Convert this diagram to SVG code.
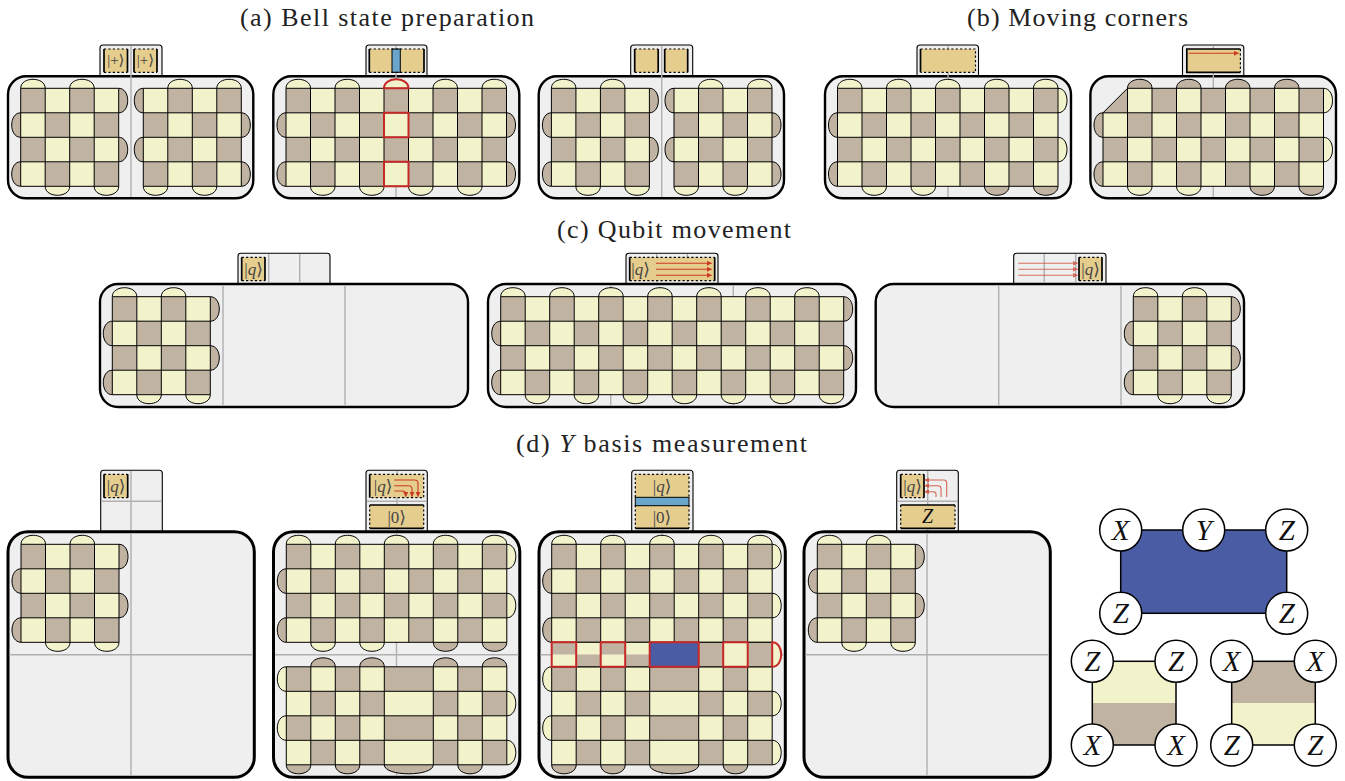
<svg xmlns="http://www.w3.org/2000/svg" width="1345" height="781" viewBox="0 0 1345 781">
<style>
text{font-family:"Liberation Serif","DejaVu Serif",serif}
.ttl{font-size:26px;fill:#222}
.l{fill:#f3f3cb}.d{fill:#c0b3a2}
.c{stroke:#000;stroke-width:1}
.g{fill:none;stroke:#000;stroke-width:1}
.p{fill:#efefef;stroke:#000;stroke-width:2.4}
.q{fill:#efefef;stroke:#000;stroke-width:3}
.t{fill:#efefef;stroke:#000;stroke-width:1.1}
.s{stroke:#b0b0b0;stroke-width:1.4;fill:none}
.y{fill:#e5cd8e}
.dot{stroke:#000;stroke-width:1.2;stroke-dasharray:2.2 2.2;fill:none}
.thk{stroke:#000;stroke-width:1.7;fill:none}
.r{fill:none;stroke:#c62828;stroke-width:2}
.a{stroke:#cc3a20;stroke-width:1.1;fill:none;marker-end:url(#ah)}
.k{font-size:15px;fill:#444;text-anchor:middle}
.kq{font-size:17px;fill:#444;text-anchor:middle}
.m{font-size:29px;font-style:italic;fill:#111;text-anchor:middle}
.o{fill:#fff;stroke:#000;stroke-width:1.5}
.e{stroke:#000;stroke-width:1.5;fill:none}
.n{fill:#4a5ca3;stroke:#000;stroke-width:1.5}
</style>
<defs>
<marker id="ah" markerUnits="userSpaceOnUse" markerWidth="5" markerHeight="5" refX="4.5" refY="2.5" orient="auto"><path d="M0 0L5 2.5L0 5z" fill="#cc3a20"/></marker>
<pattern id="pA" patternUnits="userSpaceOnUse" width="49" height="49"><rect width="49" height="49" fill="#f3f3cb"/><rect width="24.5" height="24.5" fill="#c0b3a2"/><rect x="24.5" y="24.5" width="24.5" height="24.5" fill="#c0b3a2"/></pattern>
<pattern id="pB" patternUnits="userSpaceOnUse" width="49" height="49"><rect width="49" height="49" fill="#c0b3a2"/><rect width="24.5" height="24.5" fill="#f3f3cb"/><rect x="24.5" y="24.5" width="24.5" height="24.5" fill="#f3f3cb"/></pattern>
<path id="g4" class="g" d="M0 0H98M0 24.5H98M0 49H98M0 73.5H98M0 98H98M0 0V98M24.5 0V98M49 0V98M73.5 0V98M98 0V98"/>
<path id="g9" class="g" d="M0 0H220.5M0 24.5H220.5M0 49H220.5M0 73.5H220.5M0 98H220.5M0 0V98M24.5 0V98M49 0V98M73.5 0V98M98 0V98M122.5 0V98M147 0V98M171.5 0V98M196 0V98M220.5 0V98"/>
<g id="bA">
<path class="l c" d="M0 0c0-12 24.5-12 24.5 0M49 0c0-12 24.5-12 24.5 0M24.5 98c0 12 24.5 12 24.5 0M73.5 98c0 12 24.5 12 24.5 0"/>
<path class="d c" d="M98 0c12 0 12 24.5 0 24.5M98 49c12 0 12 24.5 0 24.5M0 24.5c-12 0-12 24.5 0 24.5M0 73.5c-12 0-12 24.5 0 24.5"/>
<rect width="98" height="98" fill="url(#pA)"/><use href="#g4"/>
</g>
<g id="bB">
<path class="l c" d="M24.5 0c0-12 24.5-12 24.5 0M73.5 0c0-12 24.5-12 24.5 0M0 98c0 12 24.5 12 24.5 0M49 98c0 12 24.5 12 24.5 0"/>
<path class="d c" d="M98 24.5c12 0 12 24.5 0 24.5M98 73.5c12 0 12 24.5 0 24.5M0 0c-12 0-12 24.5 0 24.5M0 49c-12 0-12 24.5 0 24.5"/>
<rect width="98" height="98" fill="url(#pB)"/><use href="#g4"/>
</g>
<g id="bU">
<path class="l c" d="M0 0c0-12 24.5-12 24.5 0M49 0c0-12 24.5-12 24.5 0M98 0c0-12 24.5-12 24.5 0M147 0c0-12 24.5-12 24.5 0M196 0c0-12 24.5-12 24.5 0M220.5 0c12 0 12 24.5 0 24.5M220.5 49c12 0 12 24.5 0 24.5M24.5 98c0 12 24.5 12 24.5 0M73.5 98c0 12 24.5 12 24.5 0"/>
<path class="d c" d="M0 24.5c-12 0-12 24.5 0 24.5M0 73.5c-12 0-12 24.5 0 24.5M147 98c0 12 24.5 12 24.5 0M196 98c0 12 24.5 12 24.5 0"/>
<rect width="220.5" height="98" fill="url(#pA)"/><use href="#g9"/>
</g>
<g id="bL">
<path class="d c" d="M24.5 0c0-12 24.5-12 24.5 0M73.5 0c0-12 24.5-12 24.5 0M147 0c0-12 24.5-12 24.5 0M196 0c0-12 24.5-12 24.5 0M0 98c0 12 24.5 12 24.5 0M49 98c0 12 24.5 12 24.5 0M98 98c0 12 49 12 49 0M171.5 98c0 12 24.5 12 24.5 0"/>
<path class="l c" d="M0 0c-12 0-12 24.5 0 24.5M0 49c-12 0-12 24.5 0 24.5M220.5 24.5c12 0 12 24.5 0 24.5M220.5 73.5c12 0 12 24.5 0 24.5"/>
<rect width="98" height="98" fill="url(#pA)"/>
<rect x="147" width="73.5" height="98" fill="url(#pB)"/>
<path class="d" d="M98 0h49v24.5h-49zM98 49h49v24.5h-49z"/>
<path class="l" d="M98 24.5h49v24.5h-49zM98 73.5h49v24.5h-49z"/>
<path class="g" d="M0 0H220.5M0 24.5H220.5M0 49H220.5M0 73.5H220.5M0 98H220.5M0 0V98M24.5 0V98M49 0V98M73.5 0V98M98 0V98M147 0V98M171.5 0V98M196 0V98M220.5 0V98"/>
</g>
<g id="panelA">
<rect class="t" x="100" y="45" width="62" height="34" rx="3"/>
<rect class="p" x="8" y="76.3" width="245.3" height="122" rx="18"/>
<path class="s" d="M131 46V197"/>
<rect class="y" x="104" y="49" width="23.5" height="23.3"/><rect class="y" x="134" y="49" width="23" height="23.3"/>
<path class="dot" d="M104 49H127.5M104 72.3H127.5M134 49H157M134 72.3H157"/>
<path class="thk" d="M104 49V72.3M127.5 49V72.3M134 49V72.3M157 49V72.3"/>
<use href="#bA" x="20.7" y="88.3"/><use href="#bB" x="143.3" y="88.3"/>
</g>
<g id="panelD">
<rect class="q" x="0" y="0" width="246.3" height="245.6" rx="20"/>
<path class="s" d="M123 1.5V244M1.5 123H244.8"/>
</g>
</defs>

<g id="titles">
<text class="ttl" x="240" y="26" textLength="294" lengthAdjust="spacing">(a) Bell state preparation</text>
<text class="ttl" x="967" y="26" textLength="221" lengthAdjust="spacing">(b) Moving corners</text>
<text class="ttl" x="557" y="238" textLength="234" lengthAdjust="spacing">(c) Qubit movement</text>
<text class="ttl" x="516" y="452" textLength="291" lengthAdjust="spacing">(d) <tspan font-style="italic">Y</tspan> basis measurement</text>
</g>

<g id="panel-a1"><use href="#panelA"/>
<text class="k" x="115.8" y="65">|+⟩</text><text class="k" x="145.5" y="65">|+⟩</text></g>

<g id="panel-a2">
<rect class="t" x="366" y="45" width="61" height="34" rx="3"/>
<rect class="p" x="273.3" y="76.3" width="246" height="122" rx="18"/>
<path class="s" d="M396 46V197"/>
<rect class="y" x="369.3" y="49" width="54.7" height="23.3"/>
<rect x="392" y="49" width="8.3" height="23.3" fill="#6aa6cc" stroke="#000"/>
<path class="dot" d="M369.3 49H424M369.3 72.3H424"/>
<path class="thk" d="M369.3 49V72.3M424 49V72.3"/>
<g transform="translate(286 88.3)">
<path class="l c" d="M0 0c0-12 24.5-12 24.5 0M49 0c0-12 24.5-12 24.5 0M98 0c0-12 24.5-12 24.5 0M147 0c0-12 24.5-12 24.5 0M196 0c0-12 24.5-12 24.5 0M24.5 98c0 12 24.5 12 24.5 0M73.5 98c0 12 24.5 12 24.5 0M122.5 98c0 12 24.5 12 24.5 0M171.5 98c0 12 24.5 12 24.5 0"/>
<path class="d c" d="M0 24.5c-12 0-12 24.5 0 24.5M0 73.5c-12 0-12 24.5 0 24.5M220.5 24.5c12 0 12 24.5 0 24.5M220.5 73.5c12 0 12 24.5 0 24.5"/>
<rect width="220.5" height="98" fill="url(#pA)"/><use href="#g9"/>
<path class="r" d="M98 0c0-12 24.5-12 24.5 0zM98 24.5h24.5V49H98zM98 73.5h24.5V98H98z"/>
</g></g>

<g id="panel-a3" transform="translate(530.7 0)"><use href="#panelA"/></g>

<g id="panel-b1">
<rect class="t" x="917" y="45" width="61.5" height="34" rx="3"/>
<rect class="p" x="825" y="76.3" width="246" height="122" rx="18"/>
<path class="s" d="M948 46V197"/>
<rect class="y" x="920.5" y="49" width="55" height="23.3"/>
<path class="dot" d="M920.5 49H975.5V72.3H920.5"/>
<path class="thk" d="M920.5 49V72.3"/>
<g transform="translate(837.5 88.3)">
<path class="l c" d="M0 0c0-12 24.5-12 24.5 0M49 0c0-12 24.5-12 24.5 0M98 0c0-12 24.5-12 24.5 0M147 0c0-12 24.5-12 24.5 0M196 0c0-12 24.5-12 24.5 0M220.5 0c12 0 12 24.5 0 24.5M220.5 49c12 0 12 24.5 0 24.5M24.5 98c0 12 24.5 12 24.5 0M73.5 98c0 12 24.5 12 24.5 0"/>
<path class="d c" d="M0 24.5c-12 0-12 24.5 0 24.5M0 73.5c-12 0-12 24.5 0 24.5M147 98c0 12 24.5 12 24.5 0M196 98c0 12 24.5 12 24.5 0"/>
<rect width="220.5" height="98" fill="url(#pA)"/><use href="#g9"/>
</g></g>

<g id="panel-b2">
<rect class="t" x="1182.5" y="45" width="61.3" height="34" rx="3"/>
<rect class="p" x="1090.4" y="76.3" width="245.6" height="122" rx="18"/>
<path class="s" d="M1213.3 46V197"/>
<rect class="y" x="1186.8" y="49" width="53.6" height="23.3"/>
<path class="dot" d="M1240.4 49V72.3"/>
<path class="thk" d="M1240.4 49H1186.8V72.3H1240.4"/>
<path class="a" d="M1188.5 53.3H1238.5"/>
<g transform="translate(1103 88.3)">
<path class="d c" d="M24.5 0c0-12 24.5-12 24.5 0M73.5 0c0-12 24.5-12 24.5 0M122.5 0c0-12 24.5-12 24.5 0M171.5 0c0-12 24.5-12 24.5 0M0 24.5c-12 0-12 24.5 0 24.5M0 73.5c-12 0-12 24.5 0 24.5M147 98c0 12 24.5 12 24.5 0M196 98c0 12 24.5 12 24.5 0"/>
<path class="l c" d="M220.5 0c12 0 12 24.5 0 24.5M220.5 49c12 0 12 24.5 0 24.5M24.5 98c0 12 24.5 12 24.5 0M73.5 98c0 12 24.5 12 24.5 0"/>
<path fill="url(#pA)" d="M24.5 0H220.5V98H0V24.5z"/>
<path class="g" d="M24.5 0H220.5V98H0V24.5zM0 24.5H220.5M0 49H220.5M0 73.5H220.5M24.5 0V98M49 0V98M73.5 0V98M98 0V98M122.5 0V98M147 0V98M171.5 0V98M196 0V98"/>
</g></g>

<g id="panel-c1">
<rect class="t" x="238" y="253.3" width="92" height="34" rx="3"/>
<rect class="p" x="100" y="284" width="368" height="123" rx="18"/>
<path class="s" d="M223 285.2V405.8M345 285.2V405.8M268.7 254V283M299.7 254V283"/>
<rect class="y" x="241.7" y="257.3" width="23.3" height="23.4"/>
<path class="dot" d="M241.7 257.3H265M241.7 280.7H265"/>
<path class="thk" d="M241.7 257.3V280.7M265 257.3V280.7"/>
<text class="kq" x="253.5" y="274.5">|<tspan font-style="italic">q</tspan>⟩</text>
<use href="#bA" x="112.3" y="296.7"/>
</g>

<g id="panel-c2">
<rect class="t" x="626" y="253.3" width="92" height="34" rx="3"/>
<rect class="p" x="488" y="284" width="368" height="123" rx="18"/>
<path class="s" d="M610.7 285.2V405.8M733.3 285.2V405.8M656.7 254V283M687.3 254V283"/>
<rect class="y" x="629.7" y="257.3" width="85" height="23.4"/>
<path class="dot" d="M629.7 257.3H714.7M629.7 280.7H714.7"/>
<path class="thk" d="M629.7 257.3V280.7M714.7 257.3V280.7"/>
<text class="kq" x="640.5" y="274.5">|<tspan font-style="italic">q</tspan>⟩</text>
<path class="a" d="M656 263.3H711.5"/><path class="a" d="M656 269.3H711.5"/><path class="a" d="M656 275.3H711.5"/>
<g transform="translate(500.7 296.7)">
<path class="l c" d="M0 0c0-12 24.5-12 24.5 0M49 0c0-12 24.5-12 24.5 0M98 0c0-12 24.5-12 24.5 0M147 0c0-12 24.5-12 24.5 0M196 0c0-12 24.5-12 24.5 0M245 0c0-12 24.5-12 24.5 0M294 0c0-12 24.5-12 24.5 0M24.5 98c0 12 24.5 12 24.5 0M73.5 98c0 12 24.5 12 24.5 0M122.5 98c0 12 24.5 12 24.5 0M171.5 98c0 12 24.5 12 24.5 0M220.5 98c0 12 24.5 12 24.5 0M269.5 98c0 12 24.5 12 24.5 0M318.5 98c0 12 24.5 12 24.5 0"/>
<path class="d c" d="M0 24.5c-12 0-12 24.5 0 24.5M0 73.5c-12 0-12 24.5 0 24.5M343 0c12 0 12 24.5 0 24.5M343 49c12 0 12 24.5 0 24.5"/>
<rect width="343" height="98" fill="url(#pA)"/>
<path class="g" d="M0 0H343M0 24.5H343M0 49H343M0 73.5H343M0 98H343M0 0V98M24.5 0V98M49 0V98M73.5 0V98M98 0V98M122.5 0V98M147 0V98M171.5 0V98M196 0V98M220.5 0V98M245 0V98M269.5 0V98M294 0V98M318.5 0V98M343 0V98"/>
</g></g>

<g id="panel-c3">
<rect class="t" x="1013.7" y="253.3" width="92.3" height="34" rx="3"/>
<rect class="p" x="875.7" y="284" width="368.3" height="123" rx="18"/>
<path class="s" d="M998.7 285.2V405.8M1121 285.2V405.8M1044.3 254V283M1075.7 254V283"/>
<rect class="y" x="1079" y="257.3" width="23" height="23.4"/>
<path class="dot" d="M1079 257.3H1102M1079 280.7H1102"/>
<path class="thk" d="M1079 257.3V280.7M1102 257.3V280.7"/>
<text class="kq" x="1090.5" y="274.5">|<tspan font-style="italic">q</tspan>⟩</text>
<g opacity=".7"><path class="a" d="M1018.3 263.3H1077.5"/><path class="a" d="M1018.3 269.3H1077.5"/><path class="a" d="M1018.3 275.3H1077.5"/></g>
<use href="#bA" x="1133.3" y="296.7"/>
</g>

<g id="panel-d1">
<rect class="t" x="100.7" y="470.3" width="61.6" height="65" rx="3"/>
<path class="s" d="M131 471V531M101 501.3H162"/>
<rect class="y" x="104" y="474.3" width="23.7" height="23.4"/>
<path class="dot" d="M104 474.3H127.7M104 497.7H127.7"/>
<path class="thk" d="M104 474.3V497.7M127.7 474.3V497.7"/>
<text class="kq" x="116" y="491.5">|<tspan font-style="italic">q</tspan>⟩</text>
<use href="#panelD" transform="translate(8 531.7)"/>
<use href="#bA" x="21" y="544.3"/>
</g>

<g id="panel-d2">
<rect class="t" x="366" y="470.3" width="61.3" height="65" rx="3"/>
<path class="s" d="M397 471V531M367 501.3H427"/>
<rect class="y" x="369.7" y="474.3" width="54" height="23.4"/><rect class="y" x="369.7" y="505" width="54" height="23.3"/>
<path class="dot" d="M369.7 474.3H423.7V497.7H369.7M369.7 505V528.3M423.7 505V528.3"/>
<path class="thk" d="M369.7 474.3V497.7M369.7 505H423.7M369.7 528.3H423.7"/>
<text class="kq" x="383" y="491.5">|<tspan font-style="italic">q</tspan>⟩</text><text class="kq" x="396.7" y="522.5">|0⟩</text>
<path class="a" d="M394.3 480H414.5Q418 480 418 483.5V496.5"/><path class="a" d="M394.3 485.7H408.5Q412 485.7 412 489V496.5"/><path class="a" d="M394.3 491H402.5Q405.7 491 405.7 494V496.5"/>
<use href="#panelD" transform="translate(273.5 531.7)"/>
<use href="#bU" x="286.3" y="544.3"/><use href="#bL" x="286.3" y="666.8"/>
</g>

<g id="panel-d3">
<rect class="t" x="631.7" y="470.3" width="61.3" height="65" rx="3"/>
<path class="s" d="M662.5 471V531"/>
<rect class="y" x="635.3" y="474.3" width="53.7" height="23.4"/><rect class="y" x="635.3" y="505" width="53.7" height="23.3"/>
<path class="dot" d="M635.3 497.3V474.3H689V497.3M635.3 505V528.3M689 505V528.3"/>
<path class="thk" d="M635.3 528.3H689"/>
<rect x="635.3" y="497.3" width="53.7" height="8.4" fill="#6aa6cc" stroke="#000"/>
<text class="kq" x="662" y="491.5">|<tspan font-style="italic">q</tspan>⟩</text><text class="kq" x="662" y="522.5">|0⟩</text>
<use href="#panelD" transform="translate(539 531.7)"/>
<use href="#bU" x="551.7" y="544.3"/><use href="#bL" x="551.7" y="666.8"/>
<g transform="translate(551.7 544.3)">
<rect y="98" width="220.5" height="24.5" class="d"/>
<path class="l" d="M0 110.3h24.5v12.2h-24.5zM24.5 98h24.5v12.3h-24.5zM49 110.3h24.5v12.2h-24.5zM73.5 98h24.5v12.3h-24.5zM171.5 98h24.5v24.5h-24.5z"/>
<path class="l" d="M220.5 98c12 0 12 24.5 0 24.5z"/>
<rect x="98" y="98" width="49" height="24.5" fill="#4a5ca3"/>
<path class="g" d="M0 98H220.5M0 122.5H220.5"/>
<path class="r" d="M0 98h24.5v24.5H0zM49 98h24.5v24.5H49zM98 98h49v24.5H98zM171.5 98h24.5v24.5h-24.5zM220.5 98c12 0 12 24.5 0 24.5z"/>
</g></g>

<g id="panel-d4">
<rect class="t" x="896.7" y="470.3" width="61.6" height="65" rx="3"/>
<path class="s" d="M927.7 471V531M897 501.3H958"/>
<rect class="y" x="900.7" y="474.3" width="23.3" height="23.4"/><rect class="y" x="900.7" y="505" width="54.3" height="23.3"/>
<path class="dot" d="M900.7 474.3H924M900.7 497.7H924M900.7 505V528.3M955 505V528.3"/>
<path class="thk" d="M900.7 474.3V497.7M924 474.3V497.7M900.7 505H955M900.7 528.3H955"/>
<text class="kq" x="912.5" y="491.5">|<tspan font-style="italic">q</tspan>⟩</text>
<text x="927.5" y="523" font-size="20" font-style="italic" fill="#111" text-anchor="middle">Z</text>
<g opacity=".75"><path class="a" d="M936 497V494Q936 491.7 933.5 491.7H924.7"/><path class="a" d="M941 497V488.5Q941 485.7 938 485.7H924.7"/><path class="a" d="M946.7 497V483Q946.7 480 943.7 480H924.7"/></g>
<use href="#panelD" transform="translate(804 531.7)"/>
<use href="#bA" x="817.3" y="544.3"/>
</g>

<g id="legend-y">
<rect x="1120.7" y="530" width="166" height="83.3" class="n"/>
<circle class="o" cx="1120.7" cy="530" r="21"/><circle class="o" cx="1203.7" cy="530" r="21"/><circle class="o" cx="1286.7" cy="530" r="21"/><circle class="o" cx="1120.7" cy="613.3" r="21"/><circle class="o" cx="1286.7" cy="613.3" r="21"/>
<text class="m" x="1120.7" y="540">X</text><text class="m" x="1203.7" y="540">Y</text><text class="m" x="1286.7" y="540">Z</text><text class="m" x="1120.7" y="623.3">Z</text><text class="m" x="1286.7" y="623.3">Z</text>
</g>
<g id="legend-zx">
<rect x="1092.3" y="661.3" width="83.7" height="41.8" class="l"/><rect x="1092.3" y="703" width="83.7" height="42" class="d"/>
<rect x="1092.3" y="661.3" width="83.7" height="83.7" class="e"/>
<circle class="o" cx="1092.3" cy="661.3" r="21"/><circle class="o" cx="1176" cy="661.3" r="21"/><circle class="o" cx="1092.3" cy="745" r="21"/><circle class="o" cx="1176" cy="745" r="21"/>
<text class="m" x="1092.3" y="671.3">Z</text><text class="m" x="1176" y="671.3">Z</text><text class="m" x="1092.3" y="755">X</text><text class="m" x="1176" y="755">X</text>
</g>
<g id="legend-xz">
<rect x="1231.7" y="661.3" width="83.6" height="41.8" class="d"/><rect x="1231.7" y="703" width="83.6" height="42" class="l"/>
<rect x="1231.7" y="661.3" width="83.6" height="83.7" class="e"/>
<circle class="o" cx="1231.7" cy="661.3" r="21"/><circle class="o" cx="1315.3" cy="661.3" r="21"/><circle class="o" cx="1231.7" cy="745" r="21"/><circle class="o" cx="1315.3" cy="745" r="21"/>
<text class="m" x="1231.7" y="671.3">X</text><text class="m" x="1315.3" y="671.3">X</text><text class="m" x="1231.7" y="755">Z</text><text class="m" x="1315.3" y="755">Z</text>
</g>
</svg>
